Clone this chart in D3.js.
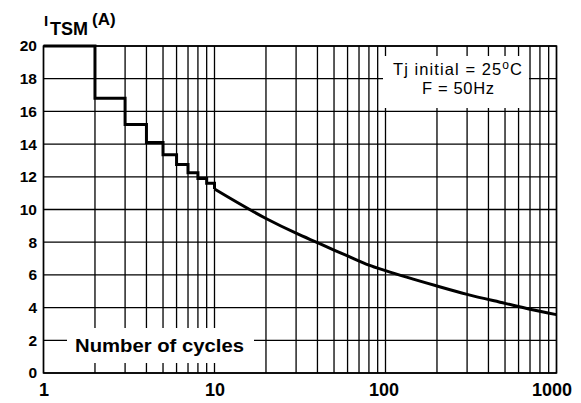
<!DOCTYPE html>
<html><head><meta charset="utf-8">
<script src="https://cdn.jsdelivr.net/npm/d3@7"></script>
<style>
html,body{margin:0;padding:0;background:#fff;}
svg{display:block;font-family:"Liberation Sans",Arial,Helvetica,sans-serif;}
</style></head>
<body><svg id="c" width="581" height="403"></svg>
<script>
const yTicks = [0,2,4,6,8,10,12,14,16,18,20];
const xTicks = [1,10,100,1000];
const stepX = [1,2,3,4,5,6,7,8,9,10];
const stepY = [20,16.8,15.2,14.1,13.35,12.75,12.25,11.9,11.6,11.25];
const curveX = [10,20,30,40,50,60,80,100,200,300,500,700,1000];
const curveY = [11.25,9.45,8.55,7.97,7.52,7.16,6.6,6.26,5.32,4.81,4.26,3.9,3.57];
const legendLines = ["Tj initial = 25", "F = 50Hz"];
const xTitle = "Number of cycles";

const svg = d3.select("#c");
const x = d3.scaleLog().domain([1,1000]).range([43.5,556.5]);
const y = d3.scaleLinear().domain([0,20]).range([373,46]);

// grid
const gridX = [];
[1,10,100].forEach(d=>{for(let k=1;k<10;k++) gridX.push(d*k);});
gridX.push(1000);
const g = svg.append("g").attr("stroke","#000").attr("stroke-width",1.3);
g.selectAll("line.v").data(gridX).join("line")
  .attr("x1",d=>x(d)).attr("x2",d=>x(d)).attr("y1",y(0)).attr("y2",y(20));
g.selectAll("line.h").data(yTicks).join("line")
  .attr("x1",x(1)).attr("x2",x(1000)).attr("y1",d=>y(d)).attr("y2",d=>y(d));

// white boxes
svg.append("rect").attr("x",383).attr("y",56).attr("width",146).attr("height",52).attr("fill","#fff");
svg.append("rect").attr("x",67).attr("y",328).attr("width",187).attr("height",35).attr("fill","#fff");

// frame
svg.append("rect").attr("x",x(1)).attr("y",y(20)).attr("width",x(1000)-x(1)).attr("height",y(0)-y(20))
  .attr("fill","none").attr("stroke","#000").attr("stroke-width",1.5);

// curve
const stepLine = d3.line().x(d=>x(d[0])).y(d=>y(d[1])).curve(d3.curveStepAfter);
svg.append("path").datum(stepX.map((d,i)=>[d,stepY[i]])).attr("d",stepLine)
  .attr("fill","none").attr("stroke","#000").attr("stroke-width",3).attr("stroke-linejoin","miter");
const smooth = d3.line().x(d=>x(d[0])).y(d=>y(d[1])).curve(d3.curveMonotoneX);
svg.append("path").datum(curveX.map((d,i)=>[d,curveY[i]])).attr("d",smooth)
  .attr("fill","none").attr("stroke","#000").attr("stroke-width",3);

// axes
const ya = svg.append("g").attr("transform",`translate(37,0)`)
  .call(d3.axisLeft(y).tickValues(yTicks).tickSize(0).tickPadding(0).tickFormat(d3.format("d")));
ya.select(".domain").remove();
ya.selectAll("text").attr("font-size",15.5).attr("font-weight","bold").attr("fill","#000")
  .attr("font-family","Liberation Sans, Arial, sans-serif");
const xa = svg.append("g").attr("transform",`translate(0,383)`)
  .call(d3.axisBottom(x).tickValues(xTicks).tickSize(0).tickPadding(0).tickFormat(d3.format("d")));
xa.select(".domain").remove();
xa.selectAll("text").attr("font-size",18).attr("font-weight","bold").attr("fill","#000")
  .attr("font-family","Liberation Sans, Arial, sans-serif")
  .attr("dx",d=>d===1000?-5:(d===100?-2:0));

// x title
svg.append("text").attr("x",159.5).attr("y",351.5).attr("text-anchor","middle")
  .attr("font-size",18).attr("font-weight","bold")
  .attr("textLength",169).attr("lengthAdjust","spacingAndGlyphs").text(xTitle);

// y title
const t = svg.append("text").attr("font-weight","bold");
t.append("tspan").attr("x",44).attr("y",26).attr("font-size",15).text("I");
t.append("tspan").attr("x",50).attr("y",35).attr("font-size",18).text("TSM");
t.append("tspan").attr("x",92).attr("y",25).attr("font-size",17).text("(A)");

// legend
const l1 = svg.append("text").attr("x",457.5).attr("y",74.5).attr("text-anchor","middle")
  .attr("font-size",16.5).attr("textLength",129).attr("lengthAdjust","spacing");
l1.append("tspan").text(legendLines[0]);
l1.append("tspan").attr("font-size",12).attr("dy",-6).text("o");
l1.append("tspan").attr("dy",6).text("C");
svg.append("text").attr("x",458).attr("y",94).attr("text-anchor","middle").attr("font-size",16.5)
  .attr("textLength",72).attr("lengthAdjust","spacing").text(legendLines[1]);
</script></body></html>
